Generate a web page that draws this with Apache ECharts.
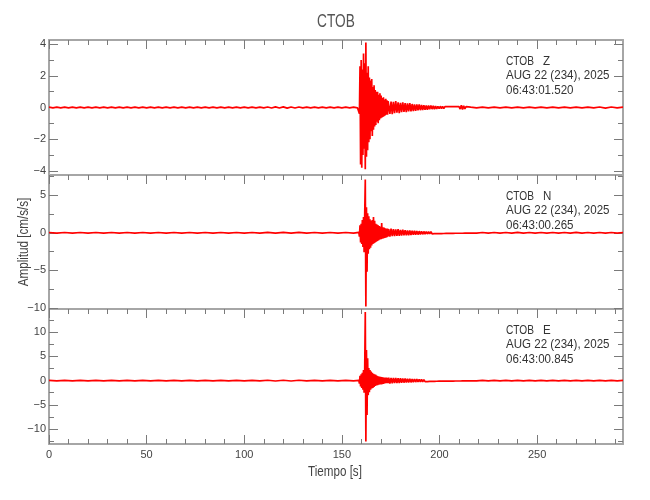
<!DOCTYPE html>
<html><head><meta charset="utf-8">
<script src="https://cdn.jsdelivr.net/npm/echarts@6/dist/echarts.min.js"></script>
<style>html,body{margin:0;padding:0;background:#fff}#c{width:650px;height:500px}</style>
</head><body><div id="c"></div><script>
// ---- text ----
const station = 'CTOB';
const components = ['Z', 'N', 'E'];
const dateLine = 'AUG 22 (234), 2025';
const startTimes = ['06:43:01.520', '06:43:00.265', '06:43:00.845'];
const xTitle = 'Tiempo [s]';
const yTitle = 'Amplitud [cm/s/s]';

// ---- axes ----
const timeMax = 294;
const xMajorTicks = [0, 50, 100, 150, 200, 250];
const xMinorTicks = [10,20,30,40,60,70,80,90,110,120,130,140,160,170,180,190,210,220,230,240,260,270,280,290];
const zRange = [-4.26, 4.26];
const nRange = [-10.15, 7.7];
const eRange = [-13.1, 14.8];
const zMajorTicks = [-4, -2, 0, 2, 4];
const zMinorTicks = [-3, -1, 1, 3];
const nMajorTicks = [-10, -5, 0, 5];
const nMinorTicks = [-7.5, -2.5, 2.5, 7.5];
const eMajorTicks = [-10, -5, 0, 5, 10];
const eMinorTicks = [-12.5, -7.5, -2.5, 2.5, 7.5, 12.5];

// ---- sampling of the value arrays (seconds) ----
const zPreStart = 0, zPreStep = 2;
const nPreStart = 0, nPreStep = 4;
const ePreStart = 0, ePreStep = 4;
const mainStart = 158.7, mainStep = 0.3;
const codaStart = 174, codaStep = 0.6;
const postStart = 216, postStep = 3;

// ---- Z component (cm/s/s) ----
const zPre = [0.02,-0.02,0.02,-0.02,0.02,-0.02,0.02,-0.02,0.02,-0.02,
  0.02,-0.02,0.02,-0.02,0.02,-0.02,0.02,-0.02,0.02,-0.02,
  0.02,-0.02,0.02,-0.02,0.02,-0.02,0.02,-0.02,0.02,-0.02,
  0.02,-0.02,0.02,-0.02,0.02,-0.02,0.02,-0.02,0.02,-0.02,
  0.02,-0.02,0.02,-0.02,0.02,-0.02,0.02,-0.02,0.02,-0.02,
  0.02,-0.02,0.02,-0.02,0.02,-0.02,0.03,-0.03,0.04,-0.03,
  0.04,-0.04,0.03,-0.03,0.03,-0.02,0.02,-0.02,0.02,-0.02,
  0.02,-0.02,0.02,-0.02,0.02,-0.02,0.02,-0.02,0.02,-0.02];
const zMain = [0.05,-0.4,2.6,-3.6,3.0,-3.8,2.4,-3.0,3.4,-2.6,
  2.8,-3.9,4.1,-3.1,2.2,-2.7,2.6,-2.2,1.9,-2.0,
  1.7,-1.5,1.8,-1.8,1.3,-1.4,1.4,-1.2,1.1,-1.1,
  1.0,-0.9,1.0,-1.0,0.8,-0.8,0.9,-0.7,0.75,-0.65,
  0.6,-0.6,0.65,-0.55,0.5,-0.5,0.55,-0.45,0.45,-0.45,
  0.4];
const zCoda = [0.42,-0.4,0.38,-0.42,0.35,-0.36,0.4,-0.33,0.32,-0.35,
  0.3,-0.3,0.33,-0.28,0.27,-0.3,0.26,-0.25,0.28,-0.24,
  0.22,-0.22,0.2,-0.21,0.19,-0.18,0.2,-0.17,0.16,-0.16,
  0.15,-0.14,0.13,-0.14,0.12,-0.11,0.12,-0.1,0.1,-0.1,
  0.09,-0.09,0.08,-0.08,0.08,-0.07,0.07,-0.07,0.06,-0.06,
  0.06,-0.05,0.06,-0.05,0.05,-0.05,0.05,-0.04,0.05,-0.04,
  0.06,-0.1,0.14,-0.13,0.11,-0.09,0.06,-0.05,0.04,-0.03];
const zPost = [0.02,-0.02,0.02,-0.02,0.02,-0.02,0.02,-0.02,0.02,-0.02,
  0.02,-0.02,0.02,-0.02,0.02,-0.02,0.02,-0.02,0.02,-0.02,
  0.02,-0.02,0.03,-0.04,0.03,-0.02,0.02];

// ---- N component (cm/s/s) ----
const nPre = [0.04,-0.04,0.04,-0.04,0.04,-0.04,0.04,-0.04,0.04,-0.04,
  0.04,-0.04,0.04,-0.04,0.04,-0.04,0.04,-0.04,0.04,-0.04,
  0.04,-0.04,0.04,-0.04,0.04,-0.04,0.04,-0.04,0.05,-0.05,
  0.05,-0.05,0.05,-0.04,0.04,-0.04,0.04,-0.04,0.04,-0.04];
const nMain = [0.05,-0.5,1.0,-1.3,1.2,-1.5,1.7,-1.9,2.1,-2.6,
  2.3,7.1,-9.8,3.4,-5.2,2.6,-2.8,2.2,-2.2,1.8,
  -2.0,1.6,-1.7,1.7,-1.5,2.1,-1.4,1.6,-1.3,1.2,
  -1.2,1.1,-1.1,1.0,-1.0,0.9,-0.9,0.8,-0.85,1.3,
  -0.8,0.75,-0.75,0.7,-0.7,0.6,-0.65,0.55,-0.6,0.55,
  -0.5];
const nCoda = [0.5,-0.5,0.55,-0.45,0.5,-0.45,0.45,-0.4,0.5,-0.4,
  0.4,-0.38,0.42,-0.35,0.35,-0.35,0.33,-0.32,0.3,-0.3,
  0.28,-0.27,0.26,-0.27,0.25,-0.24,0.22,-0.22,0.2,-0.2,
  0.18,-0.18,0.17,-0.16,0.15,-0.15,0.14,-0.13,0.13,-0.12,
  0.12,-0.11,0.11,-0.1,0.1,-0.1,0.09,-0.09,0.09,-0.08,
  0.08,-0.08,0.08,-0.07,0.07,-0.07,0.07,-0.06,0.06,-0.06,
  0.06,-0.06,0.06,-0.06,0.06,-0.05,0.06,-0.05,0.05,-0.05];
const nPost = [0.05,-0.04,0.04,-0.05,0.04,-0.04,0.04,-0.04,0.05,-0.04,
  0.04,-0.04,0.04,-0.05,0.04,-0.04,0.04,-0.04,0.05,-0.04,
  0.04,-0.04,0.04,-0.04,0.04,-0.05,0.04];

// ---- E component (cm/s/s) ----
const ePre = [0.05,-0.05,0.05,-0.05,0.05,-0.05,0.05,-0.05,0.05,-0.05,
  0.05,-0.05,0.05,-0.05,0.05,-0.05,0.05,-0.05,0.05,-0.05,
  0.05,-0.05,0.05,-0.05,0.05,-0.05,0.05,-0.06,0.07,-0.08,
  0.08,-0.08,0.07,-0.06,0.06,-0.05,0.05,-0.05,0.05,-0.05];
const eMain = [0.06,-0.6,1.0,-1.2,1.3,-1.5,1.6,-1.9,2.2,-2.5,
  2.0,14.2,-12.6,6.3,-7.1,4.6,-3.0,2.6,-2.4,2.2,
  -1.9,1.9,-1.6,1.6,-1.5,1.4,-1.3,1.3,-1.1,1.2,
  -1.0,1.0,-0.95,0.9,-0.85,0.85,-0.8,0.8,-0.8,0.75,
  -0.75,0.7,-0.7,0.65,-0.6,0.65,-0.55,0.6,-0.55,0.55,
  -0.5];
const eCoda = [0.6,-0.6,0.58,-0.55,0.55,-0.52,0.55,-0.5,0.5,-0.48,
  0.48,-0.45,0.45,-0.42,0.42,-0.4,0.4,-0.38,0.38,-0.36,
  0.35,-0.33,0.32,-0.3,0.3,-0.28,0.27,-0.26,0.25,-0.24,
  0.22,-0.21,0.2,-0.19,0.18,-0.17,0.16,-0.15,0.15,-0.14,
  0.13,-0.13,0.12,-0.12,0.11,-0.11,0.1,-0.1,0.1,-0.1,
  0.1,-0.09,0.09,-0.09,0.09,-0.09,0.08,-0.08,0.08,-0.08,
  0.08,-0.08,0.08,-0.07,0.07,-0.07,0.07,-0.07,0.07,-0.07];
const ePost = [0.06,-0.06,0.06,-0.06,0.06,-0.06,0.06,-0.06,0.06,-0.06,
  0.06,-0.06,0.06,-0.06,0.06,-0.06,0.06,-0.06,0.06,-0.06,
  0.06,-0.06,0.06,-0.06,0.06,-0.06,0.06];

// ---- build ----
function seg(start, step, vals) {
  return vals.map((v, i) => [+(start + i * step).toFixed(3), v]);
}
const traces = [
  seg(zPreStart, zPreStep, zPre).concat(seg(mainStart, mainStep, zMain), seg(codaStart, codaStep, zCoda), seg(postStart, postStep, zPost)),
  seg(nPreStart, nPreStep, nPre).concat(seg(mainStart, mainStep, nMain), seg(codaStart, codaStep, nCoda), seg(postStart, postStep, nPost)),
  seg(ePreStart, ePreStep, ePre).concat(seg(mainStart, mainStep, eMain), seg(codaStart, codaStep, eCoda), seg(postStart, postStep, ePost))
];
const ranges = [zRange, nRange, eRange];
const majors = [zMajorTicks, nMajorTicks, eMajorTicks];
const minors = [zMinorTicks, nMinorTicks, eMinorTicks];

const FONT = "'Liberation Sans', Arial, sans-serif";
const TXT = '#444';
const axisLineStyle = { color: '#a6a6a6', width: 2 };
const tickStyle = { color: '#7a7a7a', width: 1 };
const gridPos = [{ top: 40, height: 135 }, { top: 175, height: 134 }, { top: 309, height: 135 }];
const LEFT = 49, RIGHT = 27;

const grids = gridPos.map(g => ({ left: LEFT, right: RIGHT, top: g.top, height: g.height, containLabel: false }));
const xAxes = [], yAxes = [], series = [], graphics = [];
const fmt = v => String(v).replace('-', '\u2212');
const noLine = { show: false, onZero: false };

gridPos.forEach((g, i) => {
  const last = i === gridPos.length - 1;
  const xMain = xAxes.length;
  xAxes.push({
    type: 'value', gridIndex: i, min: 0, max: timeMax, position: 'bottom',
    axisLine: { show: true, onZero: false, lineStyle: axisLineStyle },
    axisTick: { show: last, inside: true, length: 9, customValues: xMajorTicks, lineStyle: tickStyle },
    axisLabel: { show: last, customValues: xMajorTicks, margin: 5, color: TXT, fontSize: 11, fontFamily: FONT },
    splitLine: { show: false }
  });
  if (last) {
    xAxes.push({
      type: 'value', gridIndex: i, min: 0, max: timeMax, position: 'bottom',
      axisLine: noLine, axisLabel: { show: false }, splitLine: { show: false },
      axisTick: { show: true, inside: true, length: 5, customValues: xMinorTicks, lineStyle: tickStyle }
    });
  }
  xAxes.push({
    type: 'value', gridIndex: i, min: 0, max: timeMax, position: 'top',
    axisLine: { show: true, onZero: false, lineStyle: axisLineStyle },
    axisTick: { show: true, inside: true, length: 9, customValues: xMajorTicks, lineStyle: tickStyle },
    axisLabel: { show: false }, splitLine: { show: false }
  });
  xAxes.push({
    type: 'value', gridIndex: i, min: 0, max: timeMax, position: 'top',
    axisLine: noLine, axisLabel: { show: false }, splitLine: { show: false },
    axisTick: { show: true, inside: true, length: 5, customValues: xMinorTicks, lineStyle: tickStyle }
  });

  const yMain = yAxes.length;
  const r = ranges[i];
  yAxes.push({
    type: 'value', gridIndex: i, min: r[0], max: r[1], position: 'left',
    axisLine: { show: true, onZero: false, lineStyle: axisLineStyle },
    axisTick: { show: true, inside: true, length: 9, customValues: majors[i], lineStyle: tickStyle },
    axisLabel: { show: true, customValues: majors[i], margin: 3, color: TXT, fontSize: 11, fontFamily: FONT, formatter: fmt },
    splitLine: { show: false }
  });
  yAxes.push({
    type: 'value', gridIndex: i, min: r[0], max: r[1], position: 'left',
    axisLine: noLine, axisLabel: { show: false }, splitLine: { show: false },
    axisTick: { show: true, inside: true, length: 5, customValues: minors[i], lineStyle: tickStyle }
  });
  yAxes.push({
    type: 'value', gridIndex: i, min: r[0], max: r[1], position: 'right',
    axisLine: { show: true, onZero: false, lineStyle: axisLineStyle },
    axisTick: { show: true, inside: true, length: 9, customValues: majors[i], lineStyle: tickStyle },
    axisLabel: { show: false }, splitLine: { show: false }
  });
  yAxes.push({
    type: 'value', gridIndex: i, min: r[0], max: r[1], position: 'right',
    axisLine: noLine, axisLabel: { show: false }, splitLine: { show: false },
    axisTick: { show: true, inside: true, length: 5, customValues: minors[i], lineStyle: tickStyle }
  });

  series.push({
    type: 'line', xAxisIndex: xMain, yAxisIndex: yMain, data: traces[i],
    showSymbol: false, symbol: 'none', silent: true, animation: false, clip: true,
    lineStyle: { color: '#ff0000', width: 1.7, join: 'bevel' }
  });

  const offs = [21, 35.5, 50];
  const annot = [[station, 506, 0.78], [components[i], 543, 0.89], [dateLine, 506, 0.89], [startTimes[i], 506, 0.89]];
  const rows = [0, 0, 1, 2];
  annot.forEach((a, k) => graphics.push({
    type: 'text', x: a[1], y: g.top + offs[rows[k]], scaleX: a[2], silent: true,
    style: { text: a[0], fill: '#333', fontSize: 13, fontFamily: FONT, textAlign: 'left', textVerticalAlign: 'middle', align: 'left', verticalAlign: 'middle' }
  }));
});

graphics.push({
  type: 'text', x: 336, y: 22, scaleX: 0.72, silent: true,
  style: { text: station, fill: '#555', fontSize: 19, fontFamily: FONT, textAlign: 'center', textVerticalAlign: 'middle', align: 'center', verticalAlign: 'middle' }
});
graphics.push({
  type: 'text', x: 335, y: 472, scaleX: 0.83, silent: true,
  style: { text: xTitle, fill: TXT, fontSize: 14, fontFamily: FONT, textAlign: 'center', textVerticalAlign: 'middle', align: 'center', verticalAlign: 'middle' }
});
graphics.push({
  type: 'text', x: 24, y: 242, rotation: Math.PI / 2, scaleX: 0.83, silent: true,
  style: { text: yTitle, fill: TXT, fontSize: 14, fontFamily: FONT, textAlign: 'center', textVerticalAlign: 'middle', align: 'center', verticalAlign: 'middle' }
});

const chart = echarts.init(document.getElementById('c'), null, { renderer: 'canvas' });
chart.setOption({
  animation: false,
  backgroundColor: '#ffffff',
  grid: grids, xAxis: xAxes, yAxis: yAxes, series: series, graphic: graphics
});
</script></body></html>
